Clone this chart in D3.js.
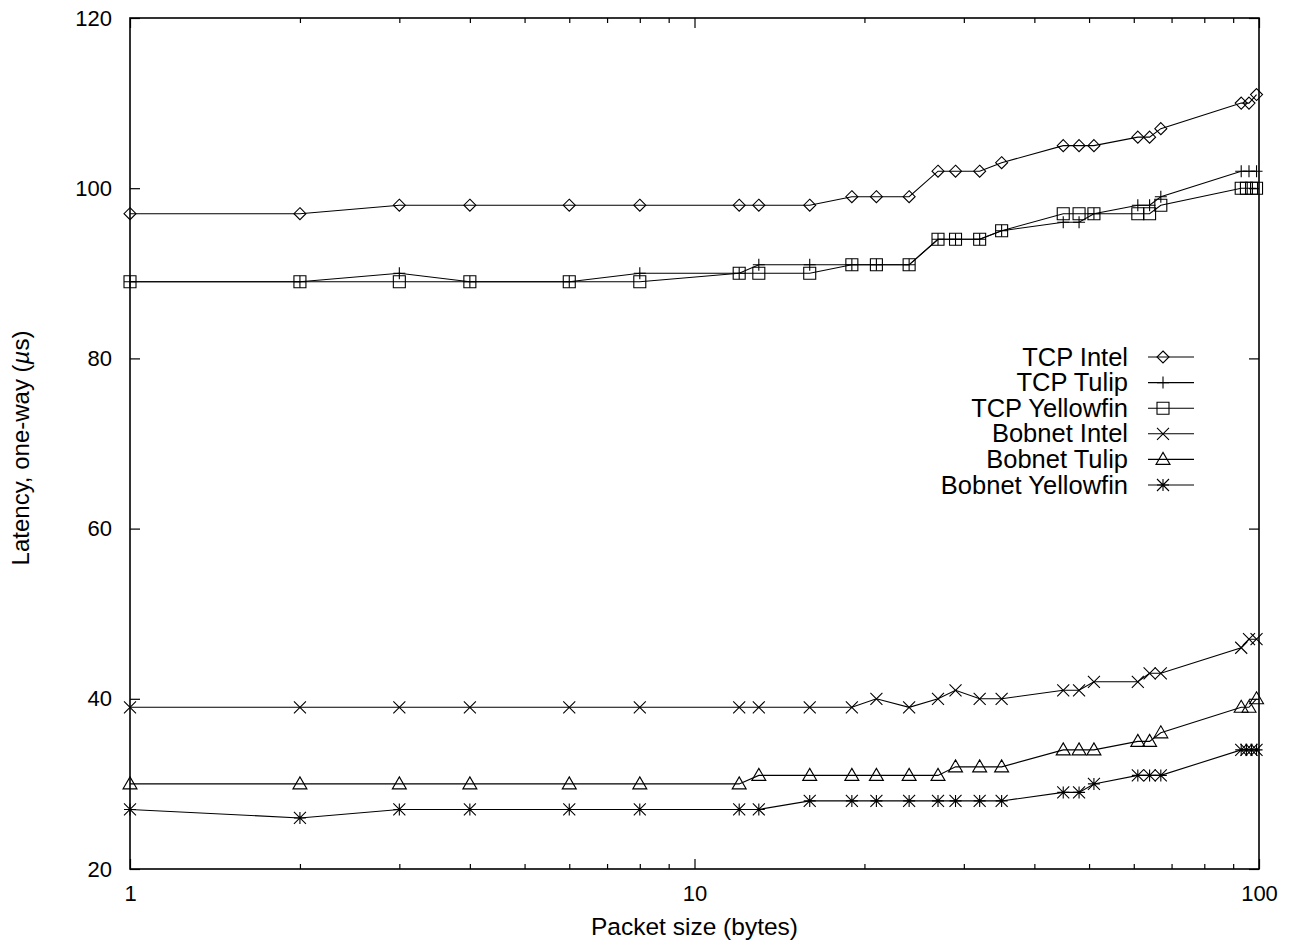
<!DOCTYPE html>
<html>
<head>
<meta charset="utf-8">
<script src="https://cdn.jsdelivr.net/npm/d3@7"></script>
<style>
  html, body { margin: 0; padding: 0; background: #fff; }
  svg text { font-family: "Liberation Sans", Arial, Helvetica, sans-serif; fill: #000; }
</style>
</head>
<body>
<svg id="chart" width="1293" height="941"></svg>
<script>
// ---- data ----
const xMain = [1,2,3,4,6,8,12,13,16,19,21,24,27,29,32,35,45,48,51,61,64,67,93,96,99];
const xYellowfin = [1,2,3,4,6,8,12,13,16,19,21,24,27,29,32,35,45,48,51,61,64,67,93,95,97,99];

const tcpIntel      = [97,97,98,98,98,98,98,98,98,99,99,99,102,102,102,103,105,105,105,106,106,107,110,110,111];
const tcpTulip      = [89,89,90,89,89,90,90,91,91,91,91,91,94,94,94,95,96,96,97,98,98,99,102,102,102];
const tcpYellowfin  = [89,89,89,89,89,89,90,90,90,91,91,91,94,94,94,95,97,97,97,97,97,98,100,100,100,100];
const bobIntel      = [39,39,39,39,39,39,39,39,39,39,40,39,40,41,40,40,41,41,42,42,43,43,46,47,47];
const bobTulip      = [30,30,30,30,30,30,30,31,31,31,31,31,31,32,32,32,34,34,34,35,35,36,39,39,40];
const bobYellowfin  = [27,26,27,27,27,27,27,27,28,28,28,28,28,28,28,28,29,29,30,31,31,31,34,34,34,34];

const seriesNames = ["TCP Intel","TCP Tulip","TCP Yellowfin","Bobnet Intel","Bobnet Tulip","Bobnet Yellowfin"];
const seriesX = [xMain, xMain, xYellowfin, xMain, xMain, xYellowfin];
const seriesY = [tcpIntel, tcpTulip, tcpYellowfin, bobIntel, bobTulip, bobYellowfin];
const markerTypes = ["diamond","plus","square","cross","triangle","star"];

const yTicks = [20,40,60,80,100,120];
const xMajorTicks = [1,10,100];
const xMinorTicks = [2,3,4,5,6,7,8,9,20,30,40,50,60,70,80,90];

const xLabel = "Packet size (bytes)";

// ---- layout ----
const L = 130, R = 1259, T = 18, B = 869;
const svg = d3.select("#chart");
const x = d3.scaleLog().domain([1,100]).range([L,R]);
const y = d3.scaleLinear().domain([20,120]).range([B,T]);

const FS = 22;

// axes (inward ticks)
function styleAxis(g, showText) {
  g.select(".domain").remove();
  g.selectAll(".tick line").attr("stroke","#000").attr("stroke-width",1.2);
  g.selectAll(".tick text").style("font-size", FS + "px").attr("fill","#000");
  if (!showText) g.selectAll(".tick text").remove();
}
svg.append("g").attr("transform",`translate(${L},0)`)
  .call(d3.axisLeft(y).tickValues(yTicks).tickSize(-10).tickPadding(18).tickFormat(d3.format("d")))
  .call(g => styleAxis(g, true));
svg.append("g").attr("transform",`translate(${R},0)`)
  .call(d3.axisRight(y).tickValues(yTicks).tickSize(-10).tickFormat(""))
  .call(g => styleAxis(g, false));
svg.append("g").attr("transform",`translate(0,${B})`)
  .call(d3.axisBottom(x).tickValues(xMajorTicks).tickSize(-10).tickPadding(16).tickFormat(d3.format("d")))
  .call(g => styleAxis(g, true));
svg.append("g").attr("transform",`translate(0,${B})`)
  .call(d3.axisBottom(x).tickValues(xMinorTicks).tickSize(-5).tickFormat(""))
  .call(g => styleAxis(g, false));
svg.append("g").attr("transform",`translate(0,${T})`)
  .call(d3.axisTop(x).tickValues(xMajorTicks).tickSize(-10).tickFormat(""))
  .call(g => styleAxis(g, false));
svg.append("g").attr("transform",`translate(0,${T})`)
  .call(d3.axisTop(x).tickValues(xMinorTicks).tickSize(-5).tickFormat(""))
  .call(g => styleAxis(g, false));

// frame
svg.append("rect").attr("x",L).attr("y",T).attr("width",R-L).attr("height",B-T)
  .attr("fill","none").attr("stroke","#000").attr("stroke-width",1.6);

// axis titles
svg.append("text").attr("x",(L+R)/2).attr("y",935).attr("text-anchor","middle")
  .style("font-size","24.5px").text(xLabel);
const yl = svg.append("text").attr("transform","translate(29,448) rotate(-90)")
  .attr("text-anchor","middle").style("font-size","24px");
yl.append("tspan").text("Latency, one-way (");
yl.append("tspan").style("font-style","italic").text("\u00b5");
yl.append("tspan").text("s)");

// markers
function marker(g, type, cx, cy) {
  const s = 6;
  let d;
  switch (type) {
    case "diamond": d = `M${cx},${cy-s}L${cx+s},${cy}L${cx},${cy+s}L${cx-s},${cy}Z`; break;
    case "plus": d = `M${cx-s},${cy}L${cx+s},${cy}M${cx},${cy-s}L${cx},${cy+s}`; break;
    case "square": d = `M${cx-s},${cy-s}L${cx+s},${cy-s}L${cx+s},${cy+s}L${cx-s},${cy+s}Z`; break;
    case "cross": d = `M${cx-s},${cy-s}L${cx+s},${cy+s}M${cx-s},${cy+s}L${cx+s},${cy-s}`; break;
    case "triangle": d = `M${cx},${cy-s-1}L${cx+s+1},${cy+s-1}L${cx-s-1},${cy+s-1}Z`; break;
    case "star": d = `M${cx-s},${cy}L${cx+s},${cy}M${cx},${cy-s}L${cx},${cy+s}M${cx-s},${cy-s}L${cx+s},${cy+s}M${cx-s},${cy+s}L${cx+s},${cy-s}`; break;
  }
  g.append("path").attr("d",d).attr("fill","none").attr("stroke","#000").attr("stroke-width",1.1);
}

const line = d3.line().x(d => x(d[0])).y(d => y(d[1]));
seriesNames.forEach((name, i) => {
  const pts = seriesX[i].map((xv, j) => [xv, seriesY[i][j]]);
  const g = svg.append("g");
  g.append("path").datum(pts).attr("d", line).attr("fill","none").attr("stroke","#000").attr("stroke-width",1.1);
  pts.forEach(p => marker(g, markerTypes[i], x(p[0]), y(p[1])));
});

// legend
const legTextX = 1128, legLineX1 = 1148, legLineX2 = 1194, legMarkX = 1163;
const legY0 = 357, legDY = 25.6;
seriesNames.forEach((name, i) => {
  const cy = legY0 + i * legDY;
  svg.append("text").attr("x",legTextX).attr("y",cy + 8.5).attr("text-anchor","end")
    .style("font-size","25.5px").text(name);
  const g = svg.append("g");
  g.append("line").attr("x1",legLineX1).attr("x2",legLineX2).attr("y1",cy).attr("y2",cy)
    .attr("stroke","#000").attr("stroke-width",1.1);
  marker(g, markerTypes[i], legMarkX, cy);
});
</script>
</body>
</html>
